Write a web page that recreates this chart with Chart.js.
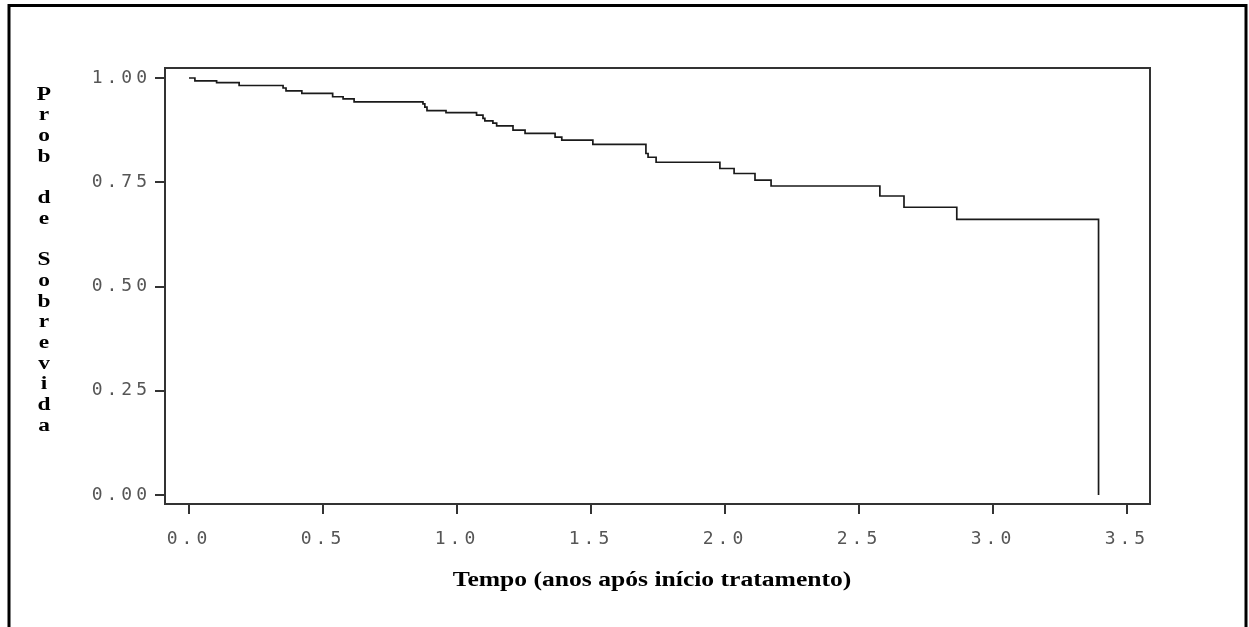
<!DOCTYPE html>
<html>
<head>
<meta charset="utf-8">
<title>Prob de Sobrevida</title>
<script src="https://cdn.jsdelivr.net/npm/chart.js@4/dist/chart.umd.min.js"></script>
<style>
  html, body { margin: 0; padding: 0; background: #fff; }
  canvas { display: block; }
</style>
</head>
<body>
<canvas id="km" width="1249" height="627"></canvas>
<script>
// Kaplan-Meier estimate: event times (years) and survival after each event
const tempo = [0, 0.022, 0.103, 0.187, 0.351, 0.362, 0.421, 0.536, 0.575, 0.616,
  0.873, 0.880, 0.888, 0.959, 1.073, 1.097, 1.104, 1.134, 1.148, 1.209,
  1.254, 1.366, 1.391, 1.507, 1.705, 1.713, 1.743, 1.981, 2.034, 2.112,
  2.172, 2.578, 2.668, 2.865, 3.394]
const sobrevida = [1, 0.993, 0.989, 0.982, 0.976, 0.969, 0.963, 0.955, 0.950, 0.943,
  0.938, 0.930, 0.922, 0.917, 0.911, 0.903, 0.897, 0.892, 0.885, 0.875,
  0.867, 0.858, 0.851, 0.841, 0.819, 0.810, 0.798, 0.783, 0.771, 0.755,
  0.741, 0.717, 0.690, 0.661, 0]

const xTicks = [0, 0.5, 1, 1.5, 2, 2.5, 3, 3.5]
const yTicks = [0, 0.25, 0.5, 0.75, 1]

const xTitle = 'Tempo (anos após início tratamento)'
const yTitle = 'Prob de Sobrevida'

const INK = '#1a1a1a'
const tickFont = { family: '"DejaVu Sans Mono", monospace', size: 18 }

// frame box + outer page border + the two serif titles (stretched like the SAS output)
const decor = {
  id: 'decor',
  beforeDraw(chart) {
    chart.ctx.letterSpacing = '4px'
  },
  afterDraw(chart) {
    const { ctx, chartArea: a } = chart
    ctx.save()
    ctx.letterSpacing = '0px'

    ctx.strokeStyle = '#333'
    ctx.lineWidth = 2
    ctx.strokeRect(a.left, a.top, a.right - a.left, a.bottom - a.top)

    ctx.strokeStyle = '#000'
    ctx.lineWidth = 3
    ctx.strokeRect(9, 5.5, 1237, 640)

    ctx.fillStyle = '#000'
    ctx.textAlign = 'center'
    ctx.textBaseline = 'alphabetic'

    ctx.font = 'bold 20px "Liberation Serif", serif'
    ctx.save()
    ctx.translate(652, 586)
    ctx.scale(1.28, 1)
    ctx.fillText(xTitle, 0, 0)
    ctx.restore()

    ctx.font = 'bold 18px "Liberation Serif", serif'
    const chars = yTitle.split('')
    chars.forEach((ch, i) => {
      if (ch === ' ') return
      ctx.save()
      ctx.translate(44, 99.5 + i * 20.7)
      ctx.scale(1.3, 1)
      ctx.fillText(ch, 0, 0)
      ctx.restore()
    })
    ctx.restore()
  }
}

new Chart(document.getElementById('km'), {
  type: 'line',
  data: {
    datasets: [{
      data: tempo.map((t, i) => ({ x: t, y: sobrevida[i] })),
      stepped: 'before',
      borderColor: INK,
      borderWidth: 1.7,
      pointRadius: 0,
      fill: false,
    }],
  },
  options: {
    responsive: false,
    animation: false,
    layout: { padding: { left: 0, top: 68, right: 99, bottom: 0 } },
    plugins: { legend: { display: false }, tooltip: { enabled: false } },
    scales: {
      x: {
        type: 'linear',
        min: -0.0896,
        max: 3.586,
        afterFit: s => { s.height = 123 },
        afterBuildTicks: s => { s.ticks = xTicks.map(v => ({ value: v })) },
        ticks: {
          color: '#555',
          font: tickFont,
          padding: 15,
          maxRotation: 0,
          autoSkip: false,
          callback: v => v.toFixed(1),
        },
        grid: { drawOnChartArea: false, drawTicks: true, tickLength: 10, color: '#333', lineWidth: 2 },
        border: { display: true, color: '#333', width: 2 },
      },
      y: {
        min: -0.0216,
        max: 1.024,
        afterFit: s => { s.width = 165 },
        afterBuildTicks: s => { s.ticks = yTicks.map(v => ({ value: v })) },
        ticks: {
          color: '#555',
          font: tickFont,
          padding: 4,
          autoSkip: false,
          callback: v => v.toFixed(2),
        },
        grid: { drawOnChartArea: false, drawTicks: true, tickLength: 10, color: '#333', lineWidth: 2 },
        border: { display: true, color: '#333', width: 2 },
      },
    },
  },
  plugins: [decor],
})
</script>
</body>
</html>
